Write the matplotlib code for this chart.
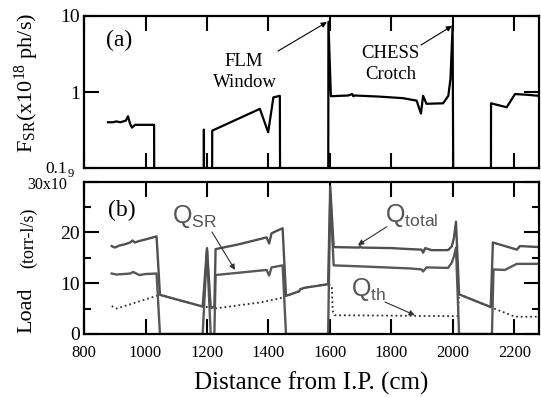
import numpy as np
import matplotlib
matplotlib.use('Agg')
import matplotlib.pyplot as plt

plt.rcParams['font.family'] = ['Liberation Serif', 'DejaVu Serif']
plt.rcParams['mathtext.fontset'] = 'custom'
plt.rcParams['mathtext.rm'] = 'Liberation Serif'
plt.rcParams['mathtext.it'] = 'Liberation Serif:italic'
plt.rcParams['mathtext.sf'] = 'Liberation Sans'

# (a) SR photon flux, x10^18 ph/s  (0.001 = off scale / no flux)
fsr_x = [878, 894, 905, 918, 927, 936, 943, 950, 956, 966, 1000, 1028, 1029,
         1189, 1190, 1191, 1216, 1217, 1372, 1399, 1416, 1437, 1439,
         1594, 1595, 1603, 1660, 1672, 1676, 1680, 1760, 1837, 1882, 1896, 1903,
         1914, 1968, 1985, 1992, 1999, 2003,
         2123, 2124, 2175, 2202, 2240, 2280]
fsr_y = [0.40, 0.40, 0.41, 0.40, 0.41, 0.42, 0.48, 0.38, 0.34, 0.37, 0.37, 0.37, 0.001,
         0.001, 0.32, 0.001, 0.001, 0.31, 0.60, 0.295, 0.85, 0.89, 0.001,
         0.001, 8.4, 0.88, 0.90, 0.94, 0.88, 0.90, 0.87, 0.83, 0.77, 0.52, 0.89,
         0.70, 0.71, 0.89, 1.48, 7.4, 0.001,
         0.001, 0.71, 0.63, 0.94, 0.92, 0.89]

# (b) gas load, x10^9 torr-l/s
qtot_x = [890, 900, 915, 930, 950, 958, 965, 980, 1000, 1036, 1047, 1186, 1200, 1212, 1224,
          1228, 1300, 1394, 1402, 1410, 1420, 1446, 1457, 1500, 1503, 1518, 1594, 1601,
          1612, 1695, 1698, 1702, 1800, 1860, 1898, 1903, 1910, 1930, 1984, 1996, 2003,
          2010, 2020, 2123, 2130, 2208, 2218, 2280]
qtot_y = [17.3, 17.0, 17.4, 17.6, 18.0, 18.4, 18.0, 18.3, 18.6, 19.2, 7.7, 5.4, 16.9, 5.3, 5.2,
          16.7, 17.6, 19.0, 17.8, 19.8, 20.1, 20.8, 7.5, 8.4, 8.8, 9.1, 9.8, 29.0,
          17.1, 17.0, 17.3, 17.0, 16.9, 16.7, 16.6, 16.0, 16.9, 16.5, 16.5, 17.2, 18.8,
          22.1, 7.8, 5.3, 18.0, 16.6, 17.3, 17.1]

qsr_x = [890, 905, 930, 950, 960, 970, 980, 1000, 1036, 1047, 1186, 1200, 1212, 1224,
         1228, 1394, 1402, 1410, 1446, 1457, 1594, 1601, 1612, 1700, 1860, 1898, 1903,
         1914, 1984, 1996, 2003, 2010, 2020, 2127, 2132, 2169, 2208, 2280]
qsr_y = [11.9, 11.7, 11.8, 11.9, 12.2, 11.9, 11.6, 11.8, 11.9, 0, 0, 16.5, 0, 0,
         11.6, 12.6, 11.5, 13.1, 13.5, 0, 0, 27.5, 13.5, 13.3, 12.9, 12.7, 12.3,
         13.1, 13.0, 14.0, 15.2, 17.0, 0, 0, 12.7, 12.6, 13.8, 13.8]

qth_x = [890, 906, 1036, 1047, 1186, 1200, 1224, 1372, 1437, 1457, 1500, 1503, 1518,
         1594, 1606, 1609, 1616, 2016, 2020, 2123, 2130, 2202, 2280]
qth_y = [5.5, 5.0, 7.5, 7.7, 5.4, 5.3, 5.0, 6.2, 7.0, 7.5, 8.4, 8.8, 9.1,
         9.8, 9.4, 4.5, 3.7, 3.5, 7.8, 5.3, 5.1, 3.4, 3.4]

xticks = [800, 1000, 1200, 1400, 1600, 1800, 2000, 2200]

fig = plt.figure(figsize=(5.41, 3.97), dpi=100)
ax1 = fig.add_axes([0.1553, 0.5768, 0.841, 0.3829])
ax2 = fig.add_axes([0.1553, 0.1587, 0.841, 0.3841])

for ax in (ax1, ax2):
    for s in ax.spines.values():
        s.set_linewidth(1.6)
    ax.set_xlim(800, 2280)
    ax.set_xticks(xticks)
    ax.tick_params(which='major', direction='in', length=11, width=1.5,
                   top=True, right=True, labelsize=12)
    ax.tick_params(which='minor', direction='in', length=5, width=1.5,
                   top=True, right=True)

# ---- panel (a)
ax1.plot(fsr_x, fsr_y, color='black', lw=1.6)
ax1.set_yscale('log')
ax1.set_ylim(0.1, 10)
ax1.set_yticks([0.1, 1, 10])
ax1.set_yticklabels(['', '1', '10'])
ax1.minorticks_off()
ax1.tick_params(axis='y', labelsize=14, pad=3)
ax1.tick_params(axis='x', labelbottom=False)
ax1.text(0.077, 0.84, '(a)', transform=ax1.transAxes, fontsize=17,
         ha='center', va='center')
ax1.text(1318, 2.55, 'FLM', fontsize=13.5, ha='center', va='center')
ax1.text(1322, 1.35, 'Window', fontsize=13.5, ha='center', va='center')
ax1.text(1795, 3.25, 'CHESS', fontsize=13.5, ha='center', va='center')
ax1.text(1798, 1.68, 'Crotch', fontsize=13.5, ha='center', va='center')
arw = dict(arrowstyle='-|>', color='black', lw=0.8, mutation_scale=8,
           shrinkA=0, shrinkB=0)
ax1.annotate('', xy=(1590, 8.3), xytext=(1431, 3.46), arrowprops=arw)
ax1.annotate('', xy=(1997, 7.4), xytext=(1896, 4.15), arrowprops=arw)

# ---- panel (b)
ax2.plot(qth_x, qth_y, color='#303030', lw=1.3, ls=(0, (1, 1.6)))
ax2.plot(qsr_x, qsr_y, color='#585858', lw=1.7)
ax2.plot(qtot_x, qtot_y, color='#505050', lw=1.7)
ax2.set_ylim(0, 30)
ax2.set_yticks([0, 10, 20, 30])
ax2.set_yticklabels(['0', '10', '20', ''])
ax2.set_yticks([5, 15, 25], minor=True)
ax2.tick_params(axis='y', labelsize=14, pad=3)
ax2.tick_params(axis='x', pad=8)
ax2.text(0.0835, 0.813, '(b)', transform=ax2.transAxes, fontsize=17,
         ha='center', va='center')

garw = dict(arrowstyle='-|>', color='#303030', lw=0.8, mutation_scale=8,
            shrinkA=0, shrinkB=0)
ax2.text(1161, 23.2, r'$\mathsf{Q_{SR}}$', fontsize=18, color='#555555',
         ha='center', va='center')
ax2.annotate('', xy=(1291, 12.6), xytext=(1216, 20.1), arrowprops=garw)
ax2.text(1867, 23.4, r'$\mathsf{Q_{total}}$', fontsize=18, color='#555555',
         ha='center', va='center')
ax2.annotate('', xy=(1691, 17.5), xytext=(1785, 21.1), arrowprops=garw)
ax2.text(1727, 8.7, r'$\mathsf{Q_{th}}$', fontsize=18, color='#555555',
         ha='center', va='center')
ax2.annotate('', xy=(1876, 3.7), xytext=(1779, 6.3), arrowprops=garw)

# labels
fig.text(67 / 541, 1 - 168.5 / 397, '0.1', fontsize=12.5, ha='right', va='center')
fig.text(67 / 541, 1 - 185 / 397, '30x10', fontsize=11.5, ha='right', va='center')
fig.text(68 / 541, 1 - 174 / 397, '9', fontsize=9, ha='left', va='center')
fig.text(0.05, 0.792, r'F$_\mathrm{SR}$(x10$^{18}$ ph/s)', fontsize=16,
         rotation=90, ha='center', va='center')
fig.text(0.05, 0.219, 'Load', fontsize=16, rotation=90, ha='center', va='center')
fig.text(0.052, 0.40, '(torr-l/s)', fontsize=13, rotation=90,
         ha='center', va='center')
fig.text(0.576, 0.035, 'Distance from I.P. (cm)', fontsize=18,
         ha='center', va='center')

fig.savefig('out.png', dpi=100)
